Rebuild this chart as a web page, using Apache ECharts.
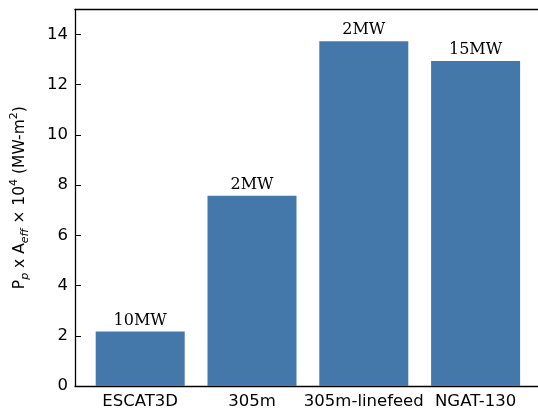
<!DOCTYPE html>
<html><head><meta charset="utf-8">
<script src="https://cdn.jsdelivr.net/npm/echarts@6/dist/echarts.min.js"></script>
<style>html,body{margin:0;padding:0;background:#fff}#c{width:538px;height:414px}</style>
</head><body><div id="c"></div>
<script>
const categories = ['ESCAT3D', '305m', '305m-linefeed', 'NGAT-130'];
const values = [2.17, 7.58, 13.73, 12.94];
const barLabels = ['10MW', '2MW', '2MW', '15MW'];
const yTicks = [0, 2, 4, 6, 8, 10, 12, 14];

const chart = echarts.init(document.getElementById('c'), null, {renderer: 'canvas'});
const sans = 'DejaVu Sans';
const gTop = 9.3, gBottom = 28;
chart.setOption({
  animation: false,
  grid: [
    {left: 84.3, right: 6.5, top: gTop, bottom: gBottom, containLabel: false, outerBoundsMode: 'none'},
    {left: 75, right: -10, top: gTop, bottom: gBottom, containLabel: false, outerBoundsMode: 'none'}
  ],
  xAxis: [
    {type: 'category', gridIndex: 0, data: categories, boundaryGap: true,
     axisLine: {show: false},
     axisTick: {show: true, inside: true, alignWithLabel: true, length: 6, lineStyle: {color: '#000', width: 1}},
     axisLabel: {color: '#000', fontFamily: sans, fontSize: 16.5, margin: 7, interval: 0, hideOverlap: false}},
    {type: 'value', gridIndex: 1, min: 0, max: 1, position: 'bottom',
     axisLine: {show: true, onZero: false, lineStyle: {color: '#000', width: 1.3}},
     axisTick: {show: false}, axisLabel: {show: false}, splitLine: {show: false}},
    {type: 'value', gridIndex: 1, min: 0, max: 1, position: 'top',
     axisLine: {show: true, onZero: false, lineStyle: {color: '#000', width: 1.3}},
     axisTick: {show: false}, axisLabel: {show: false}, splitLine: {show: false}}
  ],
  yAxis: [
    {type: 'value', gridIndex: 0, min: 0, max: 15, show: false},
    {type: 'value', gridIndex: 1, min: 0, max: 15, interval: 2,
     axisLine: {show: true, onZero: false, lineStyle: {color: '#000', width: 1.3}},
     axisTick: {show: true, inside: true, length: 6, lineStyle: {color: '#000', width: 1}},
     axisLabel: {color: '#000', fontFamily: sans, fontSize: 16.5, margin: 7, showMaxLabel: false,
       formatter: v => yTicks.includes(v) ? String(v) : ''},
     splitLine: {show: false},
     name: '{n|P}{s|p}{n| x A}{s|eff}{n| × 10}{u|4}{n| (MW-m}{u|2}{n|)}',
     nameLocation: 'middle', nameGap: 44, nameRotate: 90,
     nameTextStyle: {
       rich: {
         n: {fontFamily: sans, fontSize: 15.5, color: '#000', lineHeight: 22, verticalAlign: 'middle'},
         s: {fontFamily: sans, fontSize: 11, fontStyle: 'italic', color: '#000', lineHeight: 22, verticalAlign: 'bottom', padding: [6, 0, 0, 0]},
         u: {fontFamily: sans, fontSize: 11, color: '#000', lineHeight: 22, verticalAlign: 'top', padding: [0, 0, 8, 0]}
       }
     }}
  ],
  series: [{
    type: 'bar', xAxisIndex: 0, yAxisIndex: 0,
    data: values, barWidth: 89,
    itemStyle: {color: '#4477aa'},
    label: {show: true, position: 'top', distance: 3, color: '#000',
      fontFamily: 'DejaVu Serif', fontSize: 16,
      formatter: p => barLabels[p.dataIndex]}
  }]
});
</script></body></html>
